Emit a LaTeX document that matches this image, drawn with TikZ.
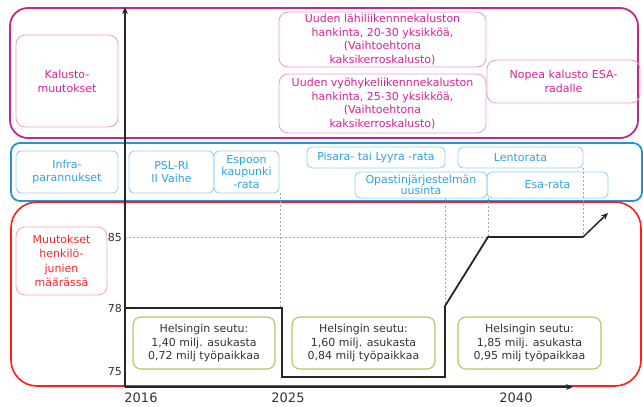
\documentclass[tikz,border=0pt]{standalone}
\usepackage{fontspec}
\setmainfont{DejaVu Sans}
\usetikzlibrary{arrows.meta}
\definecolor{pinkbig}{HTML}{C0288C}
\definecolor{pinkbox}{HTML}{EBA0D4}
\definecolor{pinktxt}{HTML}{D8209A}
\definecolor{bluebig}{HTML}{2094D8}
\definecolor{bluebox}{HTML}{94D2F0}
\definecolor{bluetxt}{HTML}{2AA4E0}
\definecolor{redbig}{HTML}{FF1E1E}
\definecolor{redbox}{HTML}{FFA8A8}
\definecolor{redtxt}{HTML}{FF2424}
\definecolor{greenbox}{HTML}{A8CC64}
\definecolor{darktxt}{HTML}{333333}
\tikzset{
  base/.style={draw, align=center, inner sep=1pt, font=\fontsize{11}{13.8}\selectfont, line width=0.9pt},
  pinkb/.style={base, draw=pinkbox, text=pinktxt, rounded corners=9pt},
  blueb/.style={base, draw=bluebox, text=bluetxt, rounded corners=5pt},
  redb/.style={base, draw=redbox, text=redtxt, rounded corners=9pt},
  greenb/.style={base, draw=greenbox, text=darktxt, line width=1.1pt, rounded corners=8pt, font=\fontsize{11}{13.4}\selectfont},
  guide/.style={draw=gray!70, line width=0.7pt, dash pattern=on 2pt off 2pt},
  series/.style={draw=black!85, line width=1.8pt},
  axislbl/.style={text=darktxt, font=\fontsize{11}{12}\selectfont, inner sep=1pt},
  yearlbl/.style={text=darktxt, font=\fontsize{13}{14}\selectfont, inner sep=1pt}
}
\begin{document}
\begin{tikzpicture}[x=1pt,y=-1pt]
\useasboundingbox (0,0) rectangle (643,407);
% big frames
\draw[pinkbig, line width=1.8pt, rounded corners=18pt] (10,8) rectangle (638,138);
\draw[bluebig, line width=1.8pt, rounded corners=9pt] (11,143) rectangle (642,201);
\draw[redbig, line width=1.6pt, rounded corners=26pt] (11,202) rectangle (641,386);

% pink boxes
\node[pinkb, minimum width=102pt, minimum height=92pt] (kal) at (67,81) {Kalusto-\\muutokset};
\node[pinkb, minimum width=207pt, minimum height=55pt] (lahi) at (382.5,39.5) {Uuden lähiliikennnekaluston\\hankinta, 20-30 yksikköä,\\(Vaihtoehtona\\kaksikerroskalusto)};
\node[pinkb, minimum width=207pt, minimum height=59pt] (vyo) at (382.5,103.5) {Uuden vyöhykeliikennnekaluston\\hankinta, 25-30 yksikköä,\\(Vaihtoehtona\\kaksikerroskalusto)};
\node[pinkb, minimum width=153pt, minimum height=43pt] (nopea) at (563.5,81.5) {Nopea kalusto ESA-\\radalle};

% blue boxes
\node[blueb, minimum width=102pt, minimum height=42pt] (infra) at (67,172) {Infra-\\parannukset};
\node[blueb, minimum width=85pt, minimum height=42pt] (psl) at (171.5,172) {PSL-RI\\II Vaihe};
\node[blueb, minimum width=65pt, minimum height=42pt, font=\fontsize{11}{12.6}\selectfont] (espoo) at (246.5,172) {Espoon\\kaupunki\\-rata};
\node[blueb, minimum width=138pt, minimum height=21pt] (pisara) at (376,157.5) {Pisara- tai Lyyra -rata};
\node[blueb, minimum width=125pt, minimum height=21pt] (lento) at (520.5,157.5) {Lentorata};
\node[blueb, minimum width=132pt, minimum height=26pt, font=\fontsize{11}{11.5}\selectfont] (opas) at (421,185) {Opastinjärjestelmän\\uusinta};
\node[blueb, minimum width=121pt, minimum height=26pt] (esa) at (547.5,185) {Esa-rata};

% red box
\node[redb, minimum width=91pt, minimum height=68pt, font=\fontsize{11}{14.5}\selectfont] (muut) at (61.5,261) {Muutokset\\henkilö-\\junien\\määrässä};

% guides
\coordinate (g85l) at (125,237);
\coordinate (g85r) at (583,237);
\draw[guide] (g85l) -- (g85r);
\coordinate (v1t) at (280,193);
\coordinate (v1b) at (280,308);
\draw[guide] (v1t) -- (v1b);
\coordinate (v2t) at (445,198);
\coordinate (v2b) at (445,306);
\draw[guide] (v2t) -- (v2b);
\coordinate (v3t) at (488,198);
\coordinate (v3b) at (488,237);
\draw[guide] (v3t) -- (v3b);
\coordinate (v4t) at (583,168);
\coordinate (v4b) at (583,237);
\draw[guide] (v4t) -- (v4b);

% green boxes
\node[greenb, minimum width=142pt, minimum height=52pt] (h1) at (204,343) {Helsingin seutu:\\1,40 milj. asukasta\\0,72 milj työpaikkaa};
\node[greenb, minimum width=143pt, minimum height=52pt] (h2) at (363.5,343) {Helsingin seutu:\\1,60 milj. asukasta\\0,84 milj työpaikkaa};
\node[greenb, minimum width=143pt, minimum height=52pt] (h3) at (529.5,343) {Helsingin seutu:\\1,85 milj. asukasta\\0,95 milj työpaikkaa};

% axes
\coordinate (origin) at (125,387);
\coordinate (ytop) at (125,7);
\coordinate (xend) at (573,387);
\draw[black!85, line width=1.5pt, -{Stealth[length=7pt,width=6pt]}] (origin) -- (ytop);
\draw[black!85, line width=1.5pt, -{Stealth[length=7pt,width=6pt]}] (origin) -- (xend);

% series
\coordinate (s0) at (126,308);
\coordinate (s1) at (282,308);
\coordinate (s2) at (282,377);
\coordinate (s3) at (445,377);
\coordinate (s4) at (445,306);
\coordinate (s5) at (488,237);
\coordinate (s6) at (583,237);
\coordinate (s7) at (608,213);
\draw[series] (s0) -- (s1) -- (s2) -- (s3) -- (s4) -- (s5) -- (s6);
\draw[series, line width=1.5pt, -{Stealth[length=7pt,width=6pt]}] (s6) -- (s7);

% axis labels
\node[axislbl, anchor=east] (l85) at (123,237) {85};
\node[axislbl, anchor=east] (l78) at (123,308) {78};
\node[axislbl, anchor=east] (l75) at (123,372) {75};
\node[yearlbl] (y16) at (141,398) {2016};
\node[yearlbl] (y25) at (288,398) {2025};
\node[yearlbl] (y40) at (516,398) {2040};
\end{tikzpicture}
\end{document}
